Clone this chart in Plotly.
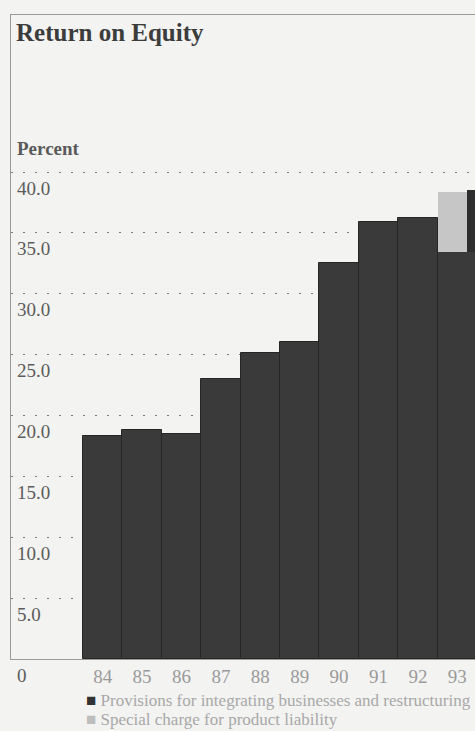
import plotly.graph_objects as go

# Return on equity by year (percent)
years = [84, 85, 86, 87, 88, 89, 90, 91, 92, 93]
year_labels = ["84", "85", "86", "87", "88", "89", "90", "91", "92", "93"]
roe = [18.3, 18.8, 18.5, 23.0, 25.1, 26.0, 32.5, 35.9, 36.2, 33.4]

# Charges added on top of the 1993 bar
charge_years = [93]
special_charge = [5.0]      # special charge for product liability
provisions = [5.1]          # provisions for integrating businesses and restructuring

y_ticks = [5, 10, 15, 20, 25, 30, 35, 40]
y_tick_labels = ["5.0", "10.0", "15.0", "20.0", "25.0", "30.0", "35.0", "40.0"]

SERIF = "Liberation Serif"
BG = "#f3f3f1"
DARK = "#3a3a3a"
LIGHT = "#c6c6c6"

base_for_charges = [roe[years.index(y)] for y in charge_years]

fig = go.Figure()
fig.add_trace(go.Bar(
    x=years, y=roe, width=1.0,
    marker=dict(color=DARK, line=dict(color="#262626", width=1)),
    showlegend=False, hoverinfo="x+y",
))
fig.add_trace(go.Bar(
    x=charge_years, y=special_charge, base=base_for_charges,
    width=0.75, offset=-0.5,
    marker=dict(color=LIGHT, line=dict(width=0)),
    name="Special charge for product liability", showlegend=False,
))
fig.add_trace(go.Bar(
    x=charge_years, y=provisions, base=base_for_charges,
    width=0.25, offset=0.25,
    marker=dict(color="#2e2e2e", line=dict(width=0)),
    name="Provisions for integrating businesses and restructuring", showlegend=False,
))

annotations = []
# y tick labels sit just below their gridlines
for v, t in zip(y_ticks + [0], y_tick_labels + ["0"]):
    annotations.append(dict(
        x=0, xref="paper", y=v, yref="y", text=t, showarrow=False,
        xanchor="left", yanchor="middle", xshift=4, yshift=-16,
        font=dict(family=SERIF, size=19, color="#5c5c5c"),
    ))

annotations += [
    dict(x=0, xref="paper", y=0.973, yref="paper", text="<b>Return on Equity</b>",
         showarrow=False, xanchor="left", yanchor="middle", xshift=3,
         font=dict(family=SERIF, size=25, color="#3c3c3c")),
    dict(x=0, xref="paper", y=0.792, yref="paper", text="<b>Percent</b>",
         showarrow=False, xanchor="left", yanchor="middle", xshift=4,
         font=dict(family=SERIF, size=19, color="#5a5a5a")),
    dict(x=0, xref="paper", y=-0.0652, yref="paper",
         text="<span style='color:#333333'>■</span> Provisions for integrating businesses and restructuring",
         showarrow=False, xanchor="left", yanchor="middle", xshift=73,
         font=dict(family=SERIF, size=17, color="#a8a8a8")),
    dict(x=0, xref="paper", y=-0.0932, yref="paper",
         text="<span style='color:#bdbdbd'>■</span> Special charge for product liability",
         showarrow=False, xanchor="left", yanchor="middle", xshift=73,
         font=dict(family=SERIF, size=17, color="#a8a8a8")),
]

fig.update_layout(
    width=475, height=731,
    margin=dict(l=11, r=0, t=15, b=72),
    paper_bgcolor=BG, plot_bgcolor=BG,
    barmode="overlay", bargap=0,
    annotations=annotations,
    xaxis=dict(
        range=[81.673, 93.449], tickvals=years, ticktext=year_labels,
        showgrid=False, zeroline=False,
        showline=True, linecolor="#9a9a9a", linewidth=1, mirror=True,
        ticks="", tickfont=dict(family=SERIF, size=19, color="#9a9a9a"),
    ),
    yaxis=dict(
        range=[0, 52.9], tickvals=y_ticks, showticklabels=False,
        showgrid=True, gridcolor="#7a7a7a", gridwidth=1, griddash="2px,10px",
        zeroline=False, showline=True, linecolor="#9a9a9a", linewidth=1,
        ticks="",
    ),
)

fig.write_html("out.html")
